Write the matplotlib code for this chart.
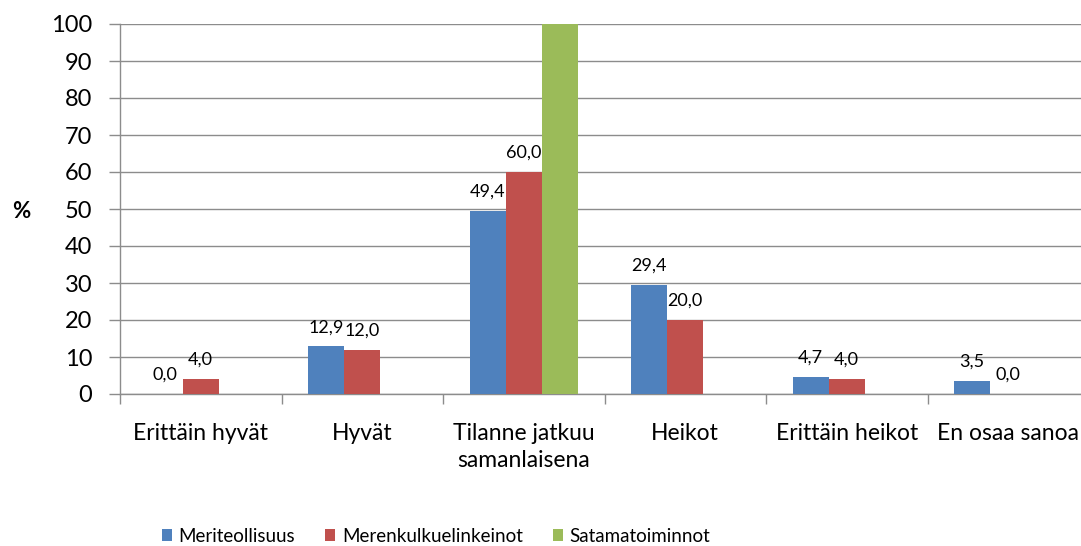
import numpy as np
import matplotlib
matplotlib.use("Agg")
import matplotlib.pyplot as plt
from matplotlib.patches import Patch

plt.rcParams['font.family'] = ['Lato', 'DejaVu Sans']

categories = ["Erittäin hyvät", "Hyvät", "Tilanne jatkuu\nsamanlaisena", "Heikot",
              "Erittäin heikot", "En osaa sanoa"]
series_names = ["Meriteollisuus", "Merenkulkuelinkeinot", "Satamatoiminnot"]
meriteollisuus = [0.0, 12.9, 49.4, 29.4, 4.7, 3.5]
merenkulku = [4.0, 12.0, 60.0, 20.0, 4.0, 0.0]
satama = [np.nan, np.nan, 100.0, np.nan, np.nan, np.nan]
yticks = list(range(0, 101, 10))

colors = ["#4F81BD", "#C0504D", "#9BBB59"]

W, H = 1081, 546
fig = plt.figure(figsize=(W / 100, H / 100), dpi=100)
ax = fig.add_axes([120 / W, 1 - 394 / H, (1089 - 120) / W, (394 - 24) / H])

x = np.arange(len(categories))
bw = 0.223
series = [meriteollisuus, merenkulku, satama]
for i, (vals, c) in enumerate(zip(series, colors)):
    pos = x + (i - 1) * bw
    ax.bar(pos, vals, width=bw, color=c, zorder=3, clip_on=False)
    if i < 2:
        for px, v in zip(pos, vals):
            ax.annotate(f"{v:.1f}".replace(".", ","), (px, v), xytext=(0, 8),
                        textcoords="offset points", ha="center", va="bottom",
                        fontsize=13, color="black")

ax.set_xlim(-0.5, len(categories) - 0.5)
ax.set_ylim(0, 100)
ax.set_yticks(yticks)
ax.set_yticklabels([str(t) for t in yticks], fontsize=17)
ax.yaxis.grid(True, color="#8c8c8c", linewidth=1.0, zorder=0)
ax.tick_params(axis="y", length=8, color="#8c8c8c", width=1, pad=12)

ax.set_xticks(x)
ax.set_xticklabels(categories, fontsize=16.5, linespacing=1.35)
ax.set_xticks(np.arange(-0.5, len(categories) + 0.5, 1), minor=True)
ax.tick_params(axis="x", which="major", length=0, pad=21)
ax.tick_params(axis="x", which="minor", length=7, color="#8c8c8c", width=1)

for s in ["top", "right"]:
    ax.spines[s].set_visible(False)
for s in ["left", "bottom"]:
    ax.spines[s].set_color("#8c8c8c")
    ax.spines[s].set_linewidth(1.0)

fig.text(21 / W, 1 - 212 / H, "%", fontsize=16, fontweight="bold", ha="center", va="center")

handles = [Patch(facecolor=c, label=n) for c, n in zip(colors, series_names)]
fig.legend(handles=handles, loc="center", bbox_to_anchor=(436 / W, 1 - 536 / H), ncol=3,
           frameon=False, prop={'family': ['Lato'], 'size': 13.5},
           handlelength=0.55, handleheight=0.55,
           handletextpad=0.35, columnspacing=1.6)

fig.savefig("out.png", dpi=100)
